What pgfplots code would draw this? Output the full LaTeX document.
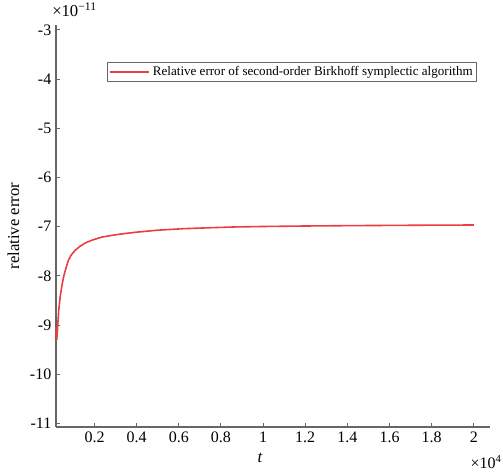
\documentclass[border=0pt]{standalone}
\usepackage{pgfplots}
\pgfplotsset{compat=1.18}
\usepackage{fontspec}
\setmainfont{Liberation Serif}
\definecolor{errred}{RGB}{236,62,66}
\definecolor{axgray}{RGB}{102,102,102}
\begin{document}
\begin{tikzpicture}
\begin{axis}[
    scale only axis,
    width=325.5pt, height=301.5pt,
    xmin=0.017, xmax=2.077,
    ymin=-11.07, ymax=-2.9,
    axis lines=left,
    axis line style={-, draw=axgray, line width=1pt},
    tick style={draw=axgray, line width=0.8pt},
    tick align=inside,
    major tick length=3pt,
    xtick={0.2,0.4,0.6,0.8,1,1.2,1.4,1.6,1.8,2},
    xticklabels={0.2,0.4,0.6,0.8,1,1.2,1.4,1.6,1.8,2},
    ytick={-11,-10,-9,-8,-7,-6,-5,-4,-3},
    yticklabels={-11,-10,-9,-8,-7,-6,-5,-4,-3},
    tick label style={font=\fontsize{12}{14}\selectfont, black},
    /pgf/number format/assume math mode=true,
    xlabel={\textit{t}},
    ylabel={relative error},
    label style={font=\fontsize{12.5}{14}\selectfont},
    xlabel style={at={(axis description cs:0.47,0)}, anchor=north, yshift=-16pt},
    ylabel style={at={(axis description cs:0,0.5)}, anchor=south, yshift=24pt},
    legend style={at={(0.970,0.908)}, anchor=north east, draw=axgray,
        font=\fontsize{9.8}{11}\selectfont, inner sep=1pt,
        legend cell align=left},
    legend image code/.code={\draw[#1] (0cm,0cm) -- (1.05cm,0cm);},
    clip=false,
]
\addplot[errred, line width=1.2pt] coordinates {
    (0.017,-9.05) (0.0205,-9.30) (0.024,-9.10) (0.026,-8.95) (0.030,-8.70)
    (0.037,-8.42) (0.045,-8.20) (0.053,-8.02) (0.065,-7.83) (0.076,-7.68)
    (0.090,-7.57) (0.108,-7.48) (0.130,-7.40) (0.156,-7.33) (0.190,-7.27)
    (0.235,-7.21) (0.290,-7.17) (0.340,-7.14) (0.400,-7.11) (0.500,-7.07)
    (0.620,-7.04) (0.750,-7.02) (0.860,-7.005) (1.000,-6.995) (1.200,-6.985)
    (1.400,-6.978) (1.600,-6.973) (1.800,-6.968) (2.000,-6.965)
};
\addlegendentry{Relative error of second-order Birkhoff symplectic algorithm}
\coordinate (SW) at (rel axis cs:0,0);
\coordinate (NE) at (rel axis cs:1,1);
\node[anchor=south west, inner sep=0pt, font=\fontsize{12.5}{14}\selectfont]
    at ([shift={(-3pt,6pt)}]rel axis cs:0,1) {×10\textsuperscript{−11}};
\node[anchor=north east, inner sep=0pt, font=\fontsize{12}{14}\selectfont]
    at ([shift={(9pt,-21pt)}]rel axis cs:1,0) {×10\textsuperscript{4}};
\end{axis}
\pgfresetboundingbox
\path ([shift={(-42pt,-33pt)}]SW) rectangle ([shift={(9.75pt,18.75pt)}]NE);
\end{tikzpicture}
\end{document}
